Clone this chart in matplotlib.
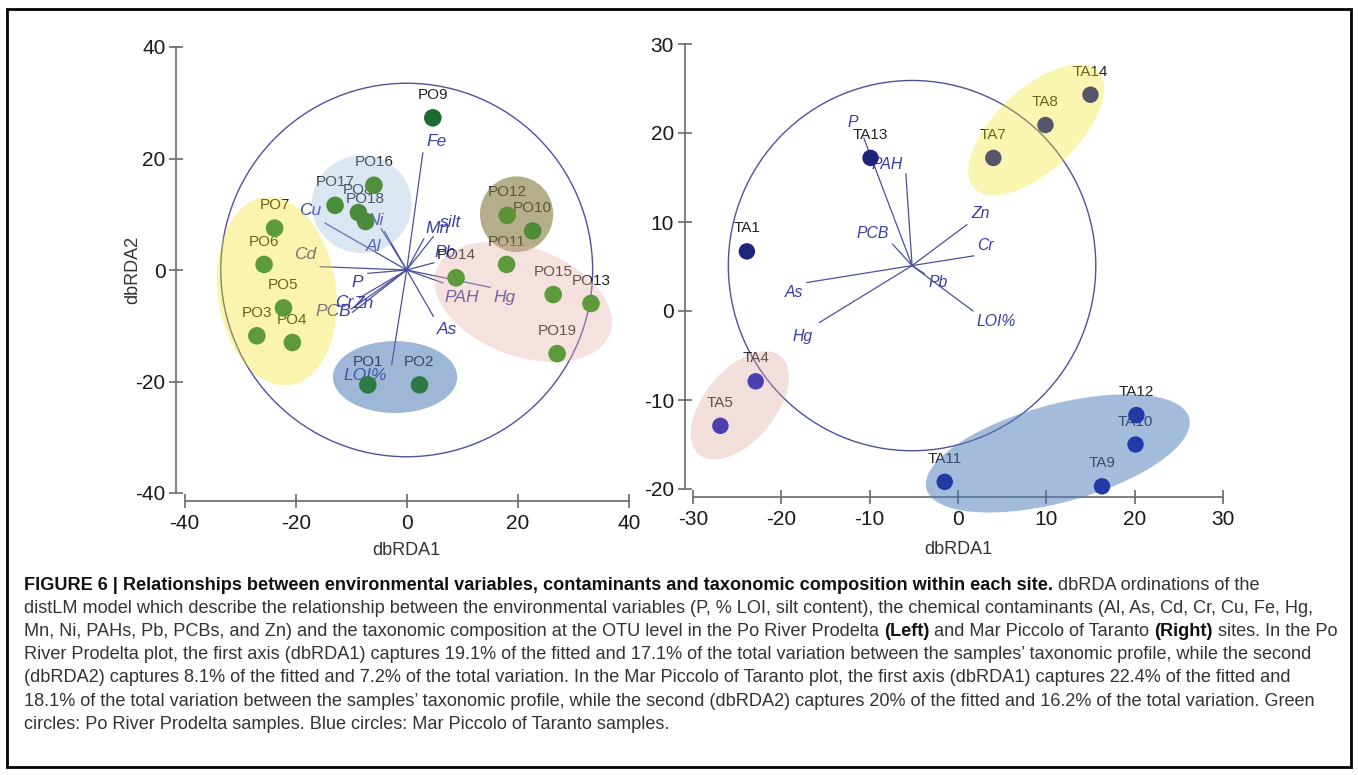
import matplotlib
matplotlib.use("Agg")
import matplotlib.pyplot as plt
import matplotlib.colors as mcolors
from matplotlib.patches import Ellipse, Circle, Rectangle

plt.rcParams['font.family'] = ['Liberation Sans', 'DejaVu Sans']

W, H = 1358, 775

# ---------------- Po River Prodelta (left) ----------------
po_names = ["PO1", "PO2", "PO3", "PO4", "PO5", "PO6", "PO7", "PO8", "PO9", "PO10",
            "PO11", "PO12", "PO13", "PO14", "PO15", "PO16", "PO17", "PO18", "PO19"]
po_x = [-7.0, 2.3, -27.0, -20.6, -22.2, -25.7, -23.8, -8.7, 4.7, 22.7,
        18.0, 18.1, 33.2, 8.9, 26.4, -5.9, -12.9, -7.4, 27.1]
po_y = [-20.6, -20.6, -11.8, -13.0, -6.8, 1.0, 7.5, 10.3, 27.3, 7.0,
        1.0, 9.8, -6.0, -1.4, -4.4, 15.2, 11.6, 8.7, -15.0]
po_colors = ["#2d7a45", "#2d7a45", "#5c9a3b", "#5c9a3b", "#5c9a3b", "#5c9a3b", "#5c9a3b",
             "#4a8a3c", "#1d6a33", "#4f8a35", "#5c9a3b", "#5a9235", "#5c9a3b", "#5c9a3b",
             "#5c9a3b", "#4f8f3e", "#4b8e3a", "#4a8a3c", "#5c9a3b"]

po_vec_names = ["Fe", "Cu", "Ni", "Al", "Cd", "P", "Cr", "Zn", "PCB", "LOI%",
                "As", "Hg", "PAH", "Pb", "Mn", "silt"]
po_vec_x = [2.9, -14.7, -4.6, -4.0, -15.6, -7.0, -10.0, -8.5, -9.8, -2.7,
            4.8, 15.0, 6.5, 4.9, 3.1, 4.8]
po_vec_y = [21.0, 8.4, 7.4, 6.9, 0.6, -0.6, -7.0, -5.0, -7.6, -16.9,
            -8.3, -3.1, -2.3, 1.3, 5.6, 6.0]
po_lab_x = [5.4, -17.4, -5.6, -6.0, -18.3, -8.9, -11.3, -7.8, -13.3, -7.5,
            7.3, 17.6, 9.9, 7.0, 5.5, 7.9]
po_lab_y = [23.1, 10.6, 8.8, 4.2, 2.8, -2.3, -5.9, -6.0, -7.4, -18.9,
            -10.6, -5.0, -5.0, 3.1, 7.4, 8.6]
po_origin = (0.0, 0.0)
po_radius = 33.5

# groups: centre x, centre y, width, height, angle, apparent colour, alpha
po_grp_x = [-23.4, -8.1, 19.8, 21.0, -2.1]
po_grp_y = [-3.8, 11.8, 10.0, -5.7, -19.2]
po_grp_w = [34.0, 18.0, 13.2, 33.3, 22.4]
po_grp_h = [21.3, 17.5, 13.6, 19.5, 12.9]
po_grp_ang = [98, 0, 0, -20, 0]
po_grp_col = ["#faf5ae", "#dbe6f3", "#b4b08a", "#f6e2e0", "#9fb8d8"]
po_grp_alpha = [0.35, 0.35, 0.6, 0.35, 0.5]

# ---------------- Mar Piccolo of Taranto (right) ----------------
ta_names = ["TA1", "TA4", "TA5", "TA7", "TA8", "TA9", "TA10", "TA11", "TA12", "TA13", "TA14"]
ta_x = [-23.9, -22.9, -26.9, 4.0, 9.9, 16.3, 20.1, -1.5, 20.2, -9.9, 15.0]
ta_y = [6.7, -7.9, -12.9, 17.2, 20.9, -19.7, -15.0, -19.2, -11.7, 17.2, 24.3]
ta_colors = ["#20247a", "#4a3fae", "#4a3fae", "#55566a", "#55566a", "#2239a6",
             "#2239a6", "#2239a6", "#2239a6", "#1e237e", "#55566a"]

ta_vec_names = ["P", "PAH", "PCB", "Zn", "Cr", "Pb", "LOI%", "As", "Hg"]
ta_vec_x = [-10.65, -5.9, -7.4, 1.0, 1.8, -3.8, 1.7, -17.1, -15.7]
ta_vec_y = [19.4, 15.4, 7.5, 9.7, 6.2, 4.2, 0.0, 3.2, -1.3]
ta_lab_x = [-11.9, -8.0, -9.6, 2.5, 3.1, -2.2, 4.3, -18.6, -17.6]
ta_lab_y = [21.2, 16.5, 8.7, 10.9, 7.4, 3.2, -1.2, 2.1, -2.9]
ta_origin = (-5.2, 5.1)
ta_radius = 20.8

ta_grp_x = [8.85, -24.7, 11.3]
ta_grp_y = [20.35, -10.6, -16.0]
ta_grp_w = [19.2, 14.4, 30.8]
ta_grp_h = [9.2, 8.0, 11.0]
ta_grp_ang = [43, 50, 15]
ta_grp_col = ["#faf6b0", "#f2dedb", "#a5bddd"]
ta_grp_alpha = [0.35, 0.35, 0.5]

caption = [
    [("FIGURE 6 | Relationships between environmental variables, contaminants and taxonomic "
      "composition within each site.", True), (" dbRDA ordinations of the", False)],
    [("distLM model which describe the relationship between the environmental variables "
      "(P, % LOI, silt content), the chemical contaminants (Al, As, Cd, Cr, Cu, Fe, Hg,", False)],
    [("Mn, Ni, PAHs, Pb, PCBs, and Zn) and the taxonomic composition at the OTU level in the "
      "Po River Prodelta ", False), ("(Left)", True), (" and Mar Piccolo of Taranto ", False),
     ("(Right)", True), (" sites. In the Po", False)],
    [("River Prodelta plot, the first axis (dbRDA1) captures 19.1% of the fitted and 17.1% of "
      "the total variation between the samples\u2019 taxonomic profile, while the second", False)],
    [("(dbRDA2) captures 8.1% of the fitted and 7.2% of the total variation. In the Mar Piccolo "
      "of Taranto plot, the first axis (dbRDA1) captures 22.4% of the fitted and", False)],
    [("18.1% of the total variation between the samples\u2019 taxonomic profile, while the second "
      "(dbRDA2) captures 20% of the fitted and 16.2% of the total variation. Green", False)],
    [("circles: Po River Prodelta samples. Blue circles: Mar Piccolo of Taranto samples.", False)],
]


def base_colour(apparent, alpha):
    # colour that gives the apparent tint over white at this alpha
    r, g, b = mcolors.to_rgb(apparent)
    return tuple(min(1, max(0, 1 - (1 - c) / alpha)) for c in (r, g, b))


def px_axes(left, top, right, bottom):
    return fig.add_axes([left / W, 1 - bottom / H, (right - left) / W, (bottom - top) / H])


def style_axes(ax, xlim, ylim, ticks_x, ticks_y):
    ax.set_xlim(*xlim)
    ax.set_ylim(*ylim)
    ax.set_xticks(ticks_x)
    ax.set_yticks(ticks_y)
    ax.set_xticklabels([str(t) for t in ticks_x])
    ax.set_yticklabels([str(t) for t in ticks_y])
    for s in ["top", "right"]:
        ax.spines[s].set_visible(False)
    for s in ["left", "bottom"]:
        ax.spines[s].set_position(("outward", 6))
        ax.spines[s].set_color("#6a6a6a")
        ax.spines[s].set_linewidth(1.2)
    ax.spines["bottom"].set_bounds(*xlim)
    ax.spines["left"].set_bounds(*ylim)
    ax.tick_params(direction="inout", length=10.5, width=1.2, color="#6a6a6a",
                   labelsize=15, labelcolor="#1a1a1a")
    ax.tick_params(axis="x", pad=4)
    ax.tick_params(axis="y", pad=2.5)
    ax.set_facecolor("none")


def draw_site(ax, names, xs, ys, cols, vnames, vx, vy, lx, ly, origin, radius,
              gx, gy, gw, gh, gang, gcol, galpha, vec_fs, dot_s, lab_col):
    ax.add_patch(Circle(origin, radius, fill=False, ec="#4f519c", lw=1.0, zorder=1))
    for n, ex, ey, tx, ty in zip(vnames, vx, vy, lx, ly):
        ax.plot([origin[0], ex], [origin[1], ey], color="#4b509b", lw=0.9, zorder=2)
        ax.text(tx, ty, n, fontsize=vec_fs, style="italic", color="#3a3ea0",
                ha="center", va="center", zorder=2)
    for n, x, y in zip(names, xs, ys):
        ax.annotate(n, (x, y), xytext=(0, 16.5), textcoords="offset points",
                    ha="center", va="center", fontsize=11, color=lab_col, zorder=3)
    for cx, cy, w, h, a, c, al in zip(gx, gy, gw, gh, gang, gcol, galpha):
        ax.add_patch(Ellipse((cx, cy), w, h, angle=a, fc=base_colour(c, al), alpha=al,
                             ec="none", zorder=4, clip_on=False))
    ax.scatter(xs, ys, s=dot_s, c=cols, edgecolors="none", zorder=5, clip_on=False)


fig = plt.figure(figsize=(W / 100, H / 100), dpi=100)

# left panel
axl = px_axes(184.7, 47, 628.7, 493)
style_axes(axl, (-40, 40), (-40, 40), [-40, -20, 0, 20, 40], [-40, -20, 0, 20, 40])
draw_site(axl, po_names, po_x, po_y, po_colors, po_vec_names, po_vec_x, po_vec_y,
          po_lab_x, po_lab_y, po_origin, po_radius, po_grp_x, po_grp_y, po_grp_w,
          po_grp_h, po_grp_ang, po_grp_col, po_grp_alpha, 12.5, 160, "#222222")
axl.set_xlabel("dbRDA1", fontsize=13, color="#333333", va="center")
axl.set_ylabel("dbRDA2", fontsize=13, color="#333333", va="center")
axl.xaxis.set_label_coords(0.5, -0.128)
axl.yaxis.set_label_coords(-0.118, 0.5)

# right panel
axr = px_axes(693, 44, 1223, 489)
style_axes(axr, (-30, 30), (-20, 30), [-30, -20, -10, 0, 10, 20, 30], [-20, -10, 0, 10, 20, 30])
draw_site(axr, ta_names, ta_x, ta_y, ta_colors, ta_vec_names, ta_vec_x, ta_vec_y,
          ta_lab_x, ta_lab_y, ta_origin, ta_radius, ta_grp_x, ta_grp_y, ta_grp_w,
          ta_grp_h, ta_grp_ang, ta_grp_col, ta_grp_alpha, 11.3, 140, "#222222")
axr.set_xlabel("dbRDA1", fontsize=13, color="#333333", va="center")
axr.xaxis.set_label_coords(0.5, -0.137)

# frame round the whole figure
fig.add_artist(Rectangle((7 / W, 1 - 767 / H), (1351 - 7) / W, (767 - 9) / H,
                         transform=fig.transFigure, fill=False, ec="black", lw=2.0))

# caption, fitted so the second line spans its width in the picture
renderer = fig.canvas.get_renderer()
probe = fig.text(0, 0, caption[1][0][0], fontsize=10)
fs = 10 * 1296 / probe.get_window_extent(renderer).width
probe.remove()

cap_x0, cap_y0, cap_dy = 24, 585, 23.2
for i, line in enumerate(caption):
    x = cap_x0
    y = cap_y0 + i * cap_dy
    for text, bold in line:
        t = fig.text(x / W, 1 - y / H, text, fontsize=fs,
                     fontweight="bold" if bold else "normal",
                     color="#111111" if bold else "#333333", ha="left", va="center")
        x += t.get_window_extent(renderer).width

fig.savefig("out.png", dpi=100)
